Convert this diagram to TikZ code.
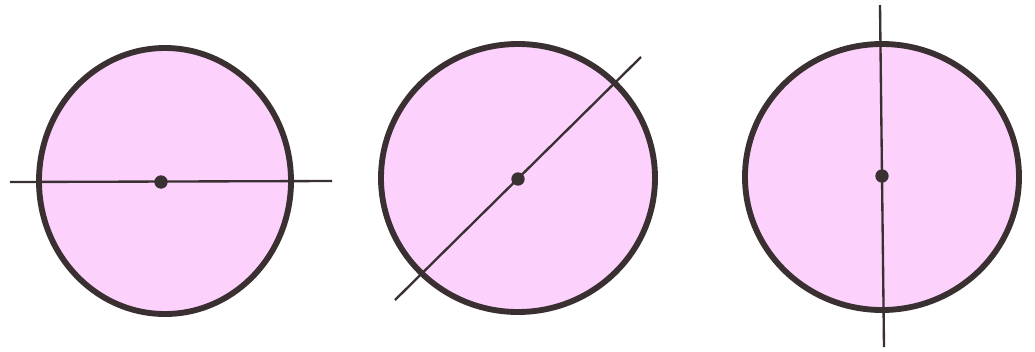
\documentclass[tikz,border=0pt]{standalone}
\usepackage{tikz}
\usetikzlibrary{calc}

\definecolor{diskpink}{RGB}{252,210,252}
\definecolor{rimgray}{RGB}{58,48,50}

\begin{document}
\begin{tikzpicture}[
    x=0.03cm, y=-0.03cm,
    disc/.style={fill=diskpink, draw=rimgray, line width=5pt},
    axis/.style={draw=rimgray, line width=2pt},
    centre/.style={circle, fill=rimgray, inner sep=0pt, minimum size=0.4cm}
]

% ============ FRAME ============
\useasboundingbox[fill=white] (0,0) rectangle (1035,351);

% ============ LEFT: HORIZONTAL LINE ============
\coordinate (c1) at (165,181);
\fill[disc] (c1) ellipse [x radius=126, y radius=133];
\coordinate (h_w) at (10,182);
\coordinate (h_e) at (332,181);
\draw[axis] (h_w) -- (h_e);
\node[centre] (dot1) at (161,182) {};

% ============ MIDDLE: SLANTED LINE ============
\coordinate (c2) at (518,178);
\fill[disc] (c2) ellipse [x radius=137, y radius=134];
\coordinate (s_sw) at (395,300);
\coordinate (s_ne) at (641,57);
\draw[axis] (s_sw) -- (s_ne);
\node[centre] (dot2) at (518,179) {};

% ============ RIGHT: VERTICAL LINE ============
\coordinate (c3) at (882,177);
\fill[disc] (c3) ellipse [x radius=137, y radius=133];
\coordinate (v_n) at (880,5);
\coordinate (v_s) at (884,347);
\draw[axis] (v_n) -- (v_s);
\node[centre] (dot3) at (882,176) {};

\end{tikzpicture}
\end{document}
